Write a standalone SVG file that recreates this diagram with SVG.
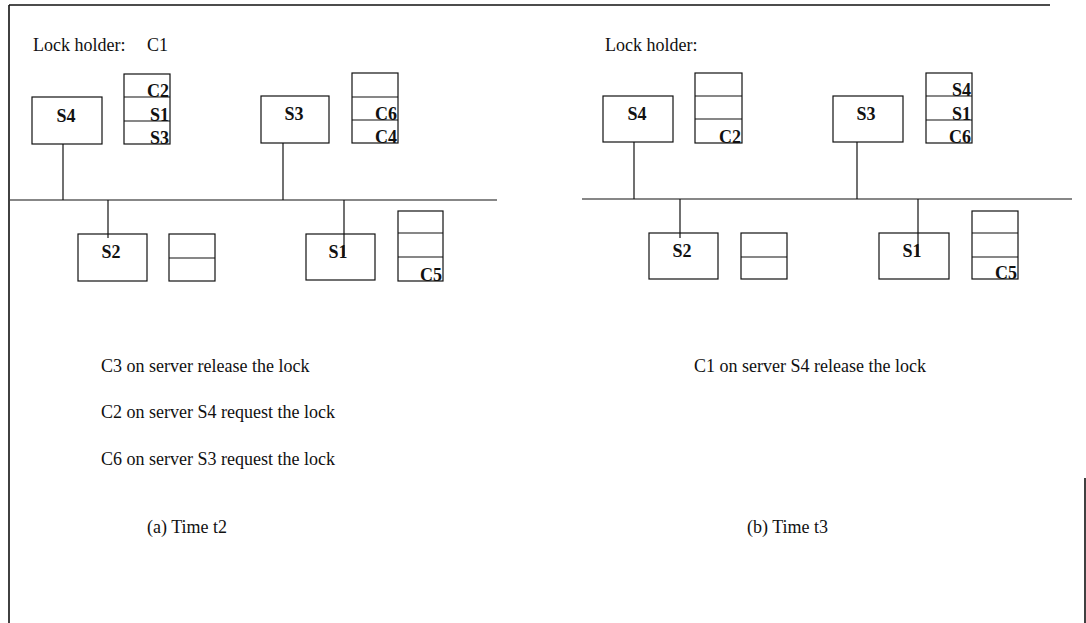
<svg xmlns="http://www.w3.org/2000/svg" width="1086" height="623" viewBox="0 0 1086 623">
<style>
text{font-family:"Liberation Serif","Times New Roman",serif;font-size:18px;fill:#111}
.q{text-anchor:end;font-weight:bold}
.c{text-anchor:middle;font-weight:bold}
rect,line{fill:none;stroke:#111;stroke-width:1.2}
.b{stroke-width:1.6}
</style>
<rect x="0" y="0" width="1086" height="623" style="fill:#fff;stroke:none"/>
<g id="frame">
<line class="b" x1="9" y1="5" x2="1050" y2="5"/>
<line class="b" x1="9" y1="5" x2="9" y2="623"/>
<line class="b" x1="1085" y1="478" x2="1085" y2="623"/>
</g>
<g id="connectors">
<line x1="10" y1="200" x2="497" y2="200"/>
<line x1="63" y1="144" x2="63" y2="200"/>
<line x1="283" y1="143" x2="283" y2="200"/>
<line x1="108" y1="200" x2="108" y2="238"/>
<line x1="344" y1="200" x2="344" y2="256"/>
<line x1="582" y1="199" x2="1072" y2="199"/>
<line x1="634" y1="142" x2="634" y2="199"/>
<line x1="857" y1="142" x2="857" y2="199"/>
<line x1="680" y1="199" x2="680" y2="238"/>
<line x1="918" y1="199" x2="918" y2="256"/>
</g>
<g id="panel-a">
<text x="33" y="51">Lock holder:</text>
<text x="147" y="51">C1</text>
<g id="a-S4"><rect x="32" y="97" width="70" height="47"/><text class="c" x="66" y="122">S4</text></g>
<g id="a-Q4"><rect x="124" y="74" width="46" height="70"/><line x1="124" y1="97" x2="170" y2="97"/><line x1="124" y1="121" x2="170" y2="121"/>
<text class="q" x="169" y="97">C2</text><text class="q" x="169" y="121">S1</text><text class="q" x="169" y="144">S3</text></g>
<g id="a-S3"><rect x="261" y="96" width="68" height="47"/><text class="c" x="294" y="120">S3</text></g>
<g id="a-Q3"><rect x="352" y="73" width="46" height="70"/><line x1="352" y1="97" x2="398" y2="97"/><line x1="352" y1="120" x2="398" y2="120"/>
<text class="q" x="397" y="120">C6</text><text class="q" x="397" y="143">C4</text></g>
<g id="a-S2"><rect x="78" y="234" width="69" height="47"/><text class="c" x="111" y="258">S2</text></g>
<g id="a-Q2"><rect x="169" y="234" width="46" height="47"/><line x1="169" y1="258" x2="215" y2="258"/></g>
<g id="a-S1"><rect x="306" y="234" width="69" height="46"/><text class="c" x="338" y="258">S1</text></g>
<g id="a-Q1"><rect x="398" y="211" width="45" height="70"/><line x1="398" y1="233" x2="443" y2="233"/><line x1="398" y1="257" x2="443" y2="257"/>
<text class="q" x="442" y="281">C5</text></g>
<text x="101" y="372">C3 on server release the lock</text>
<text x="101" y="418">C2 on server S4 request the lock</text>
<text x="101" y="465">C6 on server S3 request the lock</text>
<text x="147" y="533">(a) Time t2</text>
</g>
<g id="panel-b">
<text x="605" y="51">Lock holder:</text>
<g id="b-S4"><rect x="603" y="96" width="70" height="46"/><text class="c" x="637" y="120">S4</text></g>
<g id="b-Q4"><rect x="695" y="73" width="47" height="70"/><line x1="695" y1="96" x2="742" y2="96"/><line x1="695" y1="119" x2="742" y2="119"/>
<text class="q" x="741" y="143">C2</text></g>
<g id="b-S3"><rect x="833" y="96" width="70" height="46"/><text class="c" x="866" y="120">S3</text></g>
<g id="b-Q3"><rect x="926" y="73" width="46" height="70"/><line x1="926" y1="96" x2="972" y2="96"/><line x1="926" y1="120" x2="972" y2="120"/>
<text class="q" x="971" y="96">S4</text><text class="q" x="971" y="120">S1</text><text class="q" x="971" y="143">C6</text></g>
<g id="b-S2"><rect x="649" y="233" width="69" height="46"/><text class="c" x="682" y="257">S2</text></g>
<g id="b-Q2"><rect x="741" y="233" width="46" height="46"/><line x1="741" y1="257" x2="787" y2="257"/></g>
<g id="b-S1"><rect x="879" y="233" width="70" height="46"/><text class="c" x="912" y="257">S1</text></g>
<g id="b-Q1"><rect x="972" y="211" width="46" height="68"/><line x1="972" y1="233" x2="1018" y2="233"/><line x1="972" y1="257" x2="1018" y2="257"/>
<text class="q" x="1017" y="279">C5</text></g>
<text x="694" y="372">C1 on server S4 release the lock</text>
<text x="747" y="533">(b) Time t3</text>
</g>
</svg>
